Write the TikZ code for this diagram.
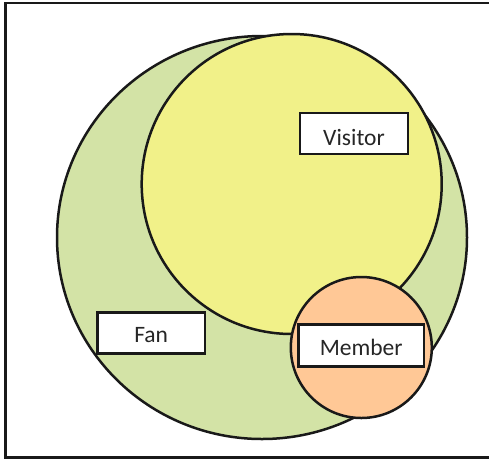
\documentclass[tikz,border=0pt]{standalone}
\usepackage{fontspec}
\setmainfont{Carlito}
\definecolor{fangreen}{RGB}{211,227,166}
\definecolor{visyellow}{RGB}{241,241,137}
\definecolor{memorange}{RGB}{255,200,150}
\begin{document}
\begin{tikzpicture}[x=1pt,y=-1pt,
  setshape/.style={draw=black!90,line width=2.5pt},
  labelbox/.style={draw=black!90,line width=2.5pt,fill=white,inner sep=0pt,text depth=2pt,
    font=\fontsize{23.5}{27}\selectfont,text=black!85}]
\useasboundingbox (0,0) rectangle (489,459);
\draw[black!90,line width=2.5pt] (492,3) -- (5.5,3) -- (5.5,457.5) -- (492,457.5);
\draw[setshape,fill=fangreen] (262,237.5) ellipse [x radius=205,y radius=201.5];
\node[setshape,fill=visyellow,circle,minimum size=300pt,inner sep=0pt] (visitorset) at (291.7,184) {};
\node[setshape,fill=memorange,circle,minimum size=141pt,inner sep=0pt] (memberset) at (361.3,347.5) {};
\node[labelbox,text height=25pt,minimum width=108pt,minimum height=41pt] (visitor) at (354,133.5) {Visitor};
\node[labelbox,text height=22pt,minimum width=125.5pt,minimum height=42pt] (member) at (361.2,345.5) {Member};
\node[labelbox,text height=21.5pt,minimum width=107.5pt,minimum height=41pt] (fan) at (151.2,332.8) {Fan};
\end{tikzpicture}
\end{document}
